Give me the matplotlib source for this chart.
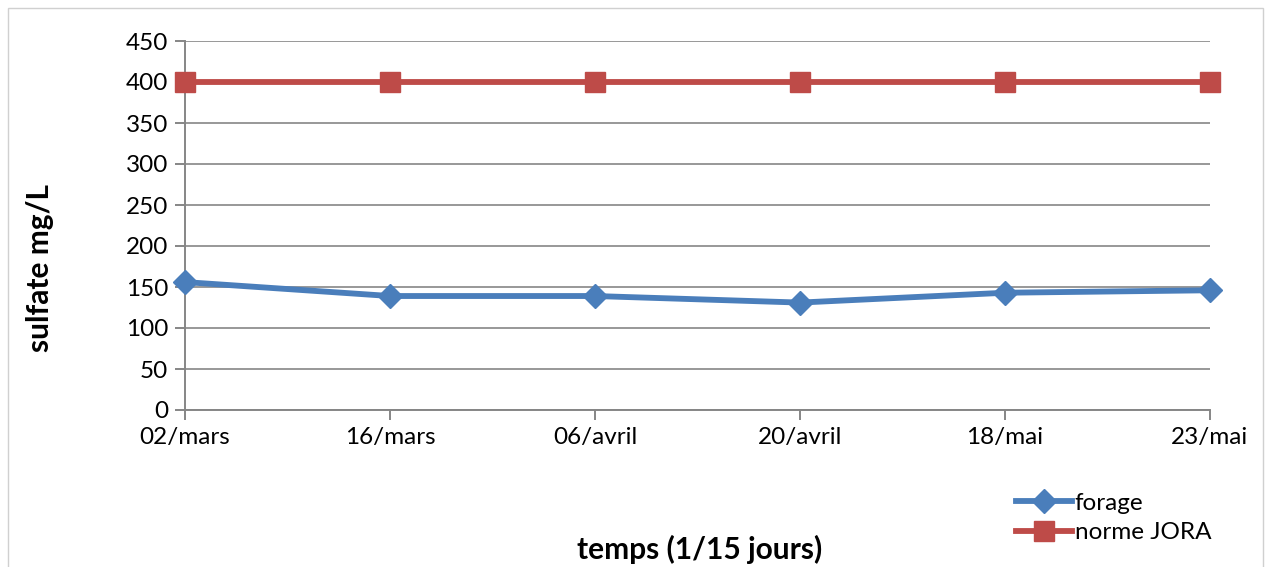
import matplotlib
matplotlib.use("Agg")
import matplotlib.pyplot as plt
from matplotlib.patches import Rectangle

plt.rcParams['font.family'] = ['Lato', 'DejaVu Sans']

dates = ["02/mars", "16/mars", "06/avril", "20/avril", "18/mai", "23/mai"]
forage = [156, 139, 139, 131, 143, 146]
norme_jora = [400, 400, 400, 400, 400, 400]

W, H = 1265, 567
fig = plt.figure(figsize=(W / 100, H / 100), dpi=100)
ax = fig.add_axes([185 / W, 1 - 410 / H, (1210 - 185) / W, (410 - 41) / H])

grey = "#868686"
x = list(range(len(dates)))
ax.plot(x, forage, "-D", color="#4a7ebb", lw=4.2, ms=12, label="forage",
        clip_on=False, zorder=4)
ax.plot(x, norme_jora, "-s", color="#be4b48", lw=4.2, ms=14, label="norme JORA",
        clip_on=False, zorder=3)

ax.set_xlim(0, len(dates) - 1)
ax.set_ylim(0, 450)
ax.set_yticks(range(0, 451, 50))
ax.set_xticks(x)
ax.set_xticklabels(dates)
ax.grid(axis="y", color=grey, lw=1.2)
ax.set_axisbelow(True)
for s in ["top", "right"]:
    ax.spines[s].set_visible(False)
for s in ["left", "bottom"]:
    ax.spines[s].set_color(grey)
    ax.spines[s].set_linewidth(1.4)
ax.tick_params(axis="both", colors=grey, labelcolor="black", labelsize=17.5,
               length=7, width=1.4)
ax.tick_params(axis="y", pad=5)
ax.tick_params(axis="x", pad=5)

fig.text(40 / W, 1 - 268 / H, "sulfate mg/L", rotation=90, ha="center", va="center",
         fontsize=21.5, fontweight="bold")
fig.text(700 / W, 1 - 549 / H, "temps (1/15 jours)", ha="center", va="center",
         fontsize=21.5, fontweight="bold")

leg = fig.legend(loc="upper left", bbox_to_anchor=(1006 / W, 1 - 483 / H), frameon=False,
                 fontsize=17.5, handlelength=2.3, handletextpad=0.12, labelspacing=0.35,
                 borderaxespad=0)

fig.patches.append(Rectangle((8 / W, -0.05), (W - 10) / W, 1 - 8 / H + 0.05,
                             transform=fig.transFigure, fill=False, ec="#d0d0d0", lw=1))

fig.savefig("out.png", dpi=100)
